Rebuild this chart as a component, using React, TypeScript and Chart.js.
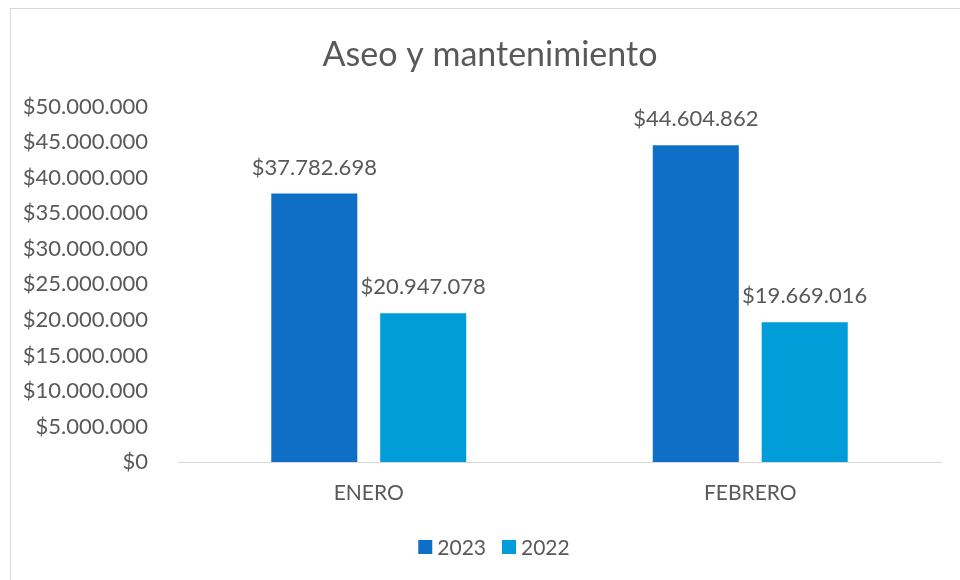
import React, { useEffect, useRef } from "react";
import { Chart, registerables } from "chart.js";

Chart.register(...registerables);

const categories = ["ENERO", "FEBRERO"];
const series2023 = [37782698, 44604862];
const series2022 = [20947078, 19669016];
const seriesLabels = ["2023", "2022"];
const seriesColors = ["#0F6FC6", "#009DD9"];
const yTickMax = 50000000;
const yTickStep = 5000000;

const TEXT = "#595959";
const FONT = "Lato";

function fmt(v: number): string {
  return "$" + Math.round(v).toString().replace(/\B(?=(\d{3})+(?!\d))/g, ".");
}

const titleShiftPlugin = {
  id: "titleShift",
  afterLayout(chart: any) {
    const tb = chart.titleBlock;
    if (tb) {
      tb.left = 39;
    }
  },
};

const dataLabelPlugin = {
  id: "barValueLabels",
  afterDatasetsDraw(chart: any) {
    const ctx = chart.ctx;
    ctx.save();
    ctx.font = `22px ${FONT}`;
    ctx.fillStyle = TEXT;
    ctx.textAlign = "center";
    ctx.textBaseline = "middle";
    chart.data.datasets.forEach((ds: any, i: number) => {
      const meta = chart.getDatasetMeta(i);
      meta.data.forEach((el: any, j: number) => {
        ctx.fillText(fmt(ds.data[j]), el.x, el.y - 26);
      });
    });
    ctx.restore();
  },
};

const legendPlugin = {
  id: "customLegend",
  afterDraw(chart: any) {
    const ctx = chart.ctx;
    ctx.save();
    ctx.font = `21px ${FONT}`;
    ctx.textBaseline = "middle";
    ctx.textAlign = "left";
    const box = 14;
    const gapText = 5;
    const gapItem = 16;
    const items = chart.data.datasets.map((ds: any) => ({
      label: ds.label,
      color: ds.backgroundColor,
      w: ctx.measureText(ds.label).width,
    }));
    let total = 0;
    items.forEach((it: any, i: number) => {
      total += box + gapText + it.w + (i < items.length - 1 ? gapItem : 0);
    });
    const cx = 494;
    const cy = chart.chartArea.bottom + 85;
    let x = cx - total / 2;
    items.forEach((it: any) => {
      ctx.fillStyle = it.color;
      ctx.fillRect(x, cy - box / 2, box, box);
      x += box + gapText;
      ctx.fillStyle = TEXT;
      ctx.fillText(it.label, x, cy + 1);
      x += it.w + gapItem;
    });
    ctx.restore();
  },
};

export default function App() {
  const ref = useRef<HTMLCanvasElement>(null);
  useEffect(() => {
    document.body.style.margin = "0";
    const chart = new Chart(ref.current!, {
      type: "bar",
      data: {
        labels: categories,
        datasets: [
          {
            label: seriesLabels[0],
            data: series2023,
            backgroundColor: seriesColors[0],
            categoryPercentage: 0.571,
            barPercentage: 0.79,
          },
          {
            label: seriesLabels[1],
            data: series2022,
            backgroundColor: seriesColors[1],
            categoryPercentage: 0.571,
            barPercentage: 0.79,
          },
        ],
      },
      options: {
        animation: false,
        responsive: false,
        layout: { padding: { left: 14, right: 19, top: 0, bottom: 80 } },
        plugins: {
          title: {
            display: true,
            text: "Aseo y mantenimiento",
            color: TEXT,
            font: { family: FONT, size: 34, weight: "normal" },
            padding: { top: 35, bottom: 31 },
          },
          legend: { display: false },
          tooltip: { enabled: false },
        },
        scales: {
          x: {
            grid: { display: false, drawTicks: false },
            border: { display: true, color: "#D9D9D9", width: 1 },
            ticks: { color: TEXT, font: { family: FONT, size: 21 }, padding: 19 },
            afterFit: (scale: any) => {
              scale.height = 38;
            },
          },
          y: {
            min: 0,
            max: yTickMax,
            grid: { display: false, drawTicks: false },
            border: { display: false },
            ticks: {
              stepSize: yTickStep,
              color: TEXT,
              font: { family: FONT, size: 22 },
              padding: 30,
              callback: (v: any) => fmt(Number(v)),
            },
            afterFit: (scale: any) => {
              scale.width = 164;
            },
          },
        },
      },
      plugins: [titleShiftPlugin, dataLabelPlugin, legendPlugin],
    });
    return () => chart.destroy();
  }, []);
  return (
    <div style={{ position: "relative", width: 960, height: 580, overflow: "hidden" }}>
      <canvas ref={ref} width={960} height={580} style={{ position: "absolute", left: 0, top: 0 }} />
      <div
        style={{
          position: "absolute",
          left: 10,
          top: 8,
          width: 980,
          height: 600,
          borderLeft: "1px solid #D9D9D9",
          borderTop: "1px solid #D9D9D9",
          pointerEvents: "none",
        }}
      />
    </div>
  );
}
